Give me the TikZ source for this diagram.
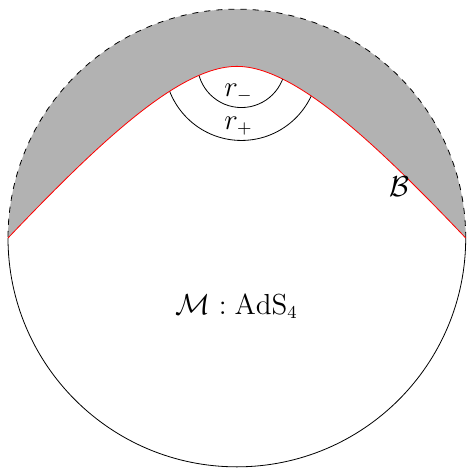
\documentclass[tikz,border=0pt]{standalone}
\usepackage{amsmath}
\tikzset{lbl/.style={inner sep=1pt,font=\fontsize{13.4}{16}\selectfont}}
\begin{document}
\begin{tikzpicture}
    \useasboundingbox (-4.14,-4.02) rectangle (4.02,4.16);
    \fill[gray!60] (-4,0) .. controls (-2.4,1.68) and (-1,3) .. (0,3) .. controls (1,3) and (2.4,1.68) .. (4,0) arc (0:180:4) -- cycle;
    \draw[dashed] (4,0) arc (0:180:4);
    \draw (-4,0) arc (180:360:4);
    \begin{scope}
        \clip (-4,0) .. controls (-2.4,1.68) and (-1,3) .. (0,3) .. controls (1,3) and (2.4,1.68) .. (4,0) -- (4,-4) -- (-4,-4) -- cycle;
        \draw (0.08,3.05) circle (0.77);
        \draw (0.08,3.05) circle (1.345);
    \end{scope}
    \draw[red] (-4,0) .. controls (-2.4,1.68) and (-1,3) .. (0,3) .. controls (1,3) and (2.4,1.68) .. (4,0);
    \node[lbl] (rm) at (0.03,2.53) {$r_-$}; %inner radius
    \node[lbl] (rp) at (0.03,1.96) {$r_+$}; %outer radius
    \node[lbl] (bdry) at (2.85,0.89) {$\mathcal{B}$};
    \node[lbl] (bulk) at (0,-1.2) {$\mathcal{M}:\mathrm{AdS}_4$};
\end{tikzpicture}
\end{document}
